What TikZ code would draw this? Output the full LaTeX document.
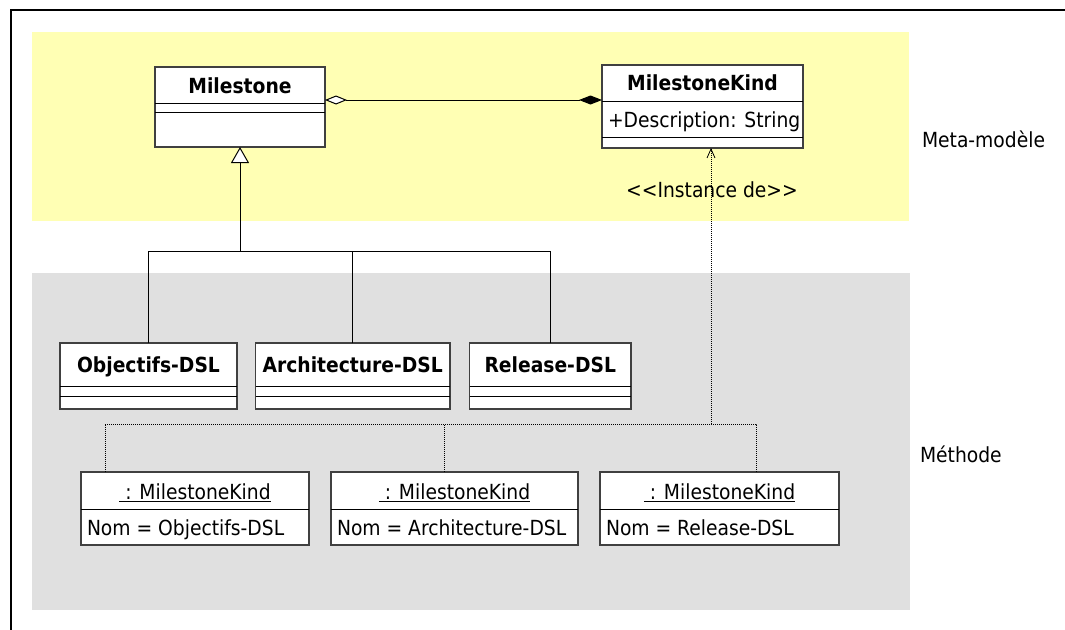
\documentclass[tikz,border=0pt]{standalone}
\usepackage{fontspec}
\setmainfont{DejaVu Sans Condensed}
\usetikzlibrary{arrows.meta,calc}
\definecolor{metafill}{RGB}{255,255,180}
\definecolor{methfill}{RGB}{224,224,224}
\definecolor{boxline}{RGB}{64,64,64}

\tikzset{
  txt/.style={font=\fontsize{20.8}{24}\selectfont, inner sep=0pt, outer sep=0pt},
  ttl/.style={font=\fontsize{20.8}{24}\selectfont\bfseries, inner sep=0pt, outer sep=0pt},
  umlbox/.style={draw=boxline, fill=white, line width=1.1pt, inner sep=0pt, outer sep=0pt, anchor=north west},
  cline/.style={draw=black, line width=1pt},
  assoc/.style={draw=black, line width=1pt},
  gen/.style={draw=black, line width=1pt},
  dep/.style={draw=black, line width=0.8pt, dash pattern=on 1pt off 1pt},
}

\begin{document}
\begin{tikzpicture}[x=1pt,y=-1pt]
\useasboundingbox (0,0) rectangle (1065,629);

% outer frame
\draw[line width=2pt, line join=miter] (1066,10) -- (11,10) -- (11,630);

% layer backgrounds
\fill[metafill] (32,32) rectangle (909,221);
\fill[methfill] (32,273) rectangle (910,610);

% ---------- meta-model classes ----------
\node[umlbox, minimum width=170pt, minimum height=80pt] (ms) at (155,67) {};
\draw[cline] ($(ms.north west)+(0,36)$) -- ($(ms.north east)+(0,36)$);
\draw[cline] ($(ms.north west)+(0,45)$) -- ($(ms.north east)+(0,45)$);
\node[ttl, anchor=base] (msname) at ($(ms.north)+(0,26.5)$) {Milestone};

\node[umlbox, minimum width=201pt, minimum height=83pt] (mk) at (602,65) {};
\draw[cline] ($(mk.north west)+(0,36)$) -- ($(mk.north east)+(0,36)$);
\draw[cline] ($(mk.north west)+(0,72)$) -- ($(mk.north east)+(0,72)$);
\node[ttl, anchor=base] (mkname) at ($(mk.north)+(0,25.5)$) {MilestoneKind};
\node[txt, anchor=base west] (mkattr) at ($(mk.north west)+(6,62)$) {+Description: String};

% aggregation / composition between the two meta classes
\draw[assoc, {Diamond[fill=white,length=22pt,width=9pt]}-{Diamond[length=23pt,width=9pt]}]
  ([yshift=7pt]ms.east) -- ([yshift=7pt]ms.east -| mk.west);

% ---------- DSL classes ----------
\node[umlbox, minimum width=177pt, minimum height=66pt] (obj) at (60,343) {};
\node[umlbox, minimum width=194.5pt, minimum height=66pt] (arch) at (255.5,343) {};
\node[umlbox, minimum width=161.5pt, minimum height=66pt] (rel) at (469.5,343) {};
\foreach \b in {obj,arch,rel}{
  \draw[cline] ($(\b.north west)+(0,43)$) -- ($(\b.north east)+(0,43)$);
  \draw[cline] ($(\b.north west)+(0,53.5)$) -- ($(\b.north east)+(0,53.5)$);
}
\node[ttl, anchor=base] (objname) at ($(obj.north)+(0,29)$) {Objectifs-DSL};
\node[ttl, anchor=base] (archname) at ($(arch.north)+(0,29)$) {Architecture-DSL};
\node[ttl, anchor=base] (relname) at ($(rel.north)+(0,29)$) {Release-DSL};

% generalization tree
\coordinate (jn) at ($(ms.south)+(0,104)$);
\draw[gen] (obj.north) |- (jn);
\draw[gen] (rel.north) |- (jn);
\draw[gen] (arch.north) -- (arch.north |- jn);
\draw[gen, -{Triangle[fill=white,length=16pt,width=18pt]}] (jn) -- (ms.south);

% ---------- instances ----------
\node[umlbox, minimum width=228pt, minimum height=73pt] (inst1) at (81,472) {};
\node[umlbox, minimum width=247pt, minimum height=73pt] (inst2) at (331,472) {};
\node[umlbox, minimum width=239pt, minimum height=73pt] (inst3) at (600,472) {};
\foreach \b in {inst1,inst2,inst3}{
  \draw[cline] ($(\b.north west)+(0,37)$) -- ($(\b.north east)+(0,37)$);
}
\node[txt, anchor=base] (i1t) at ($(inst1.north)+(0,27)$) {\underline{\ : MilestoneKind}};
\node[txt, anchor=base] (i2t) at ($(inst2.north)+(0,27)$) {\underline{\ : MilestoneKind}};
\node[txt, anchor=base] (i3t) at ($(inst3.north)+(0,27)$) {\underline{\ : MilestoneKind}};
\node[txt, anchor=base west] (i1n) at ($(inst1.north west)+(6,63)$) {Nom = Objectifs-DSL};
\node[txt, anchor=base west] (i2n) at ($(inst2.north west)+(6,63)$) {Nom = Architecture-DSL};
\node[txt, anchor=base west] (i3n) at ($(inst3.north west)+(6,63)$) {Nom = Release-DSL};

% instance-of dependency
\coordinate (bus) at ($(mk.south west)+(109,276)$);
\coordinate (d1) at ([xshift=24pt]inst1.north west);
\coordinate (d2) at ([xshift=113pt]inst2.north west);
\coordinate (d3) at ([xshift=156pt]inst3.north west);
\draw[dep] (d1) |- (d3 |- bus) -- (d3);
\draw[dep] (d2) -- (d2 |- bus);
\draw[dep, -{Straight Barb[length=9pt,width=8pt]}] (bus) -- (bus |- mk.south);
\node[txt, anchor=base] (instlbl) at (712,197) {\mbox{<}\mbox{<}Instance de\mbox{>}\mbox{>}};

% layer labels
\node[txt, anchor=base west] (lmeta) at (922,147.5) {Meta-modèle};
\node[txt, anchor=base west] (lmeth) at (920,462.5) {Méthode};
\end{tikzpicture}
\end{document}
